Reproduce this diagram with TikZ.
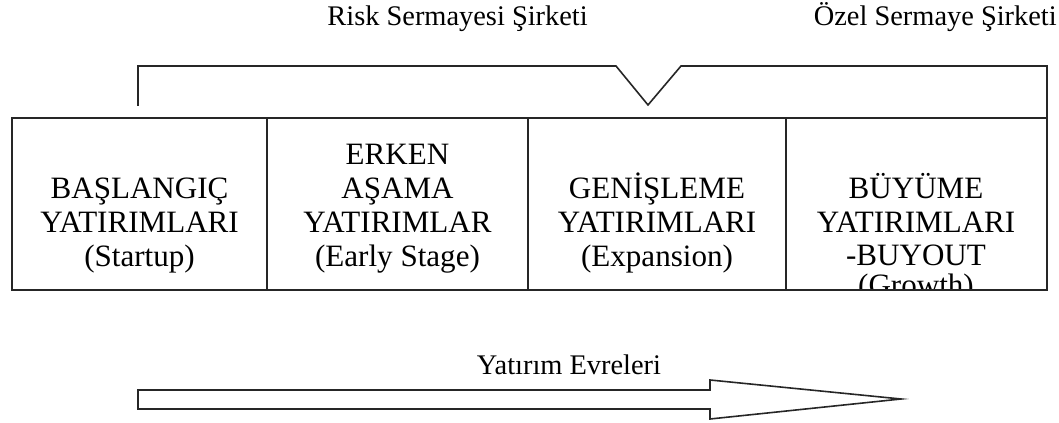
\documentclass[tikz,border=0pt]{standalone}
\usepackage{fontspec}
\setmainfont{Liberation Serif}
\begin{document}
\begin{tikzpicture}[x=0.75pt,y=-0.75pt,
  line/.style={draw=black!85,line width=1.2pt,line join=miter},
  boxtxt/.style={font=\fontsize{23.3pt}{27pt}\selectfont,anchor=base,inner sep=0pt},
  lbl/.style={font=\fontsize{21.3pt}{25pt}\selectfont,inner sep=0pt}]
\useasboundingbox (0,0) rectangle (1059,423);
% labels
\node[lbl,anchor=base east] (rs) at (588,26) {Risk Sermayesi Şirketi};
\node[lbl,anchor=base east] (oz) at (1057,26) {Özel Sermaye Şirketi};
% bracket
\coordinate (bl) at (138,106);
\coordinate (br) at (1047,118);
\draw[line] (bl) -- (138,66) -- (616,66) -- (648,105) -- (681,66) -- (1047,66) -- (br);
% boxes
\draw[line] (12,118) rectangle (1047,290);
\draw[line] (267,118) -- (267,290);
\draw[line] (528,118) -- (528,290);
\draw[line] (786,118) -- (786,290);
% column 1
\node[boxtxt] (a1) at (139.5,199) {BAŞLANGIÇ};
\node[boxtxt] (a2) at (139.5,233) {YATIRIMLARI};
\node[boxtxt] (a3) at (139.5,267) {(Startup)};
% column 2
\node[boxtxt] (b0) at (397.5,165) {ERKEN};
\node[boxtxt] (b1) at (397.5,199) {AŞAMA};
\node[boxtxt] (b2) at (397.5,233) {YATIRIMLAR};
\node[boxtxt] (b3) at (397.5,267) {(Early Stage)};
% column 3
\node[boxtxt] (c1) at (657,199) {GENİŞLEME};
\node[boxtxt] (c2) at (657,233) {YATIRIMLARI};
\node[boxtxt] (c3) at (657,267) {(Expansion)};
% column 4
\node[boxtxt] (d1) at (916,199) {BÜYÜME};
\node[boxtxt] (d2) at (916,233) {YATIRIMLARI};
\node[boxtxt] (d3) at (916,266) {-BUYOUT};
\begin{scope}
\clip (786,118) rectangle (1047,289);
\node[boxtxt] (d4) at (916,296) {(Growth)};
\end{scope}
% arrow
\node[lbl,anchor=base] (ye) at (569,375) {Yatırım Evreleri};
\draw[line] (138,390) -- (710,390) -- (710,380) -- (901,399) -- (710,419) -- (710,409) -- (138,409) -- cycle;
\end{tikzpicture}
\end{document}
